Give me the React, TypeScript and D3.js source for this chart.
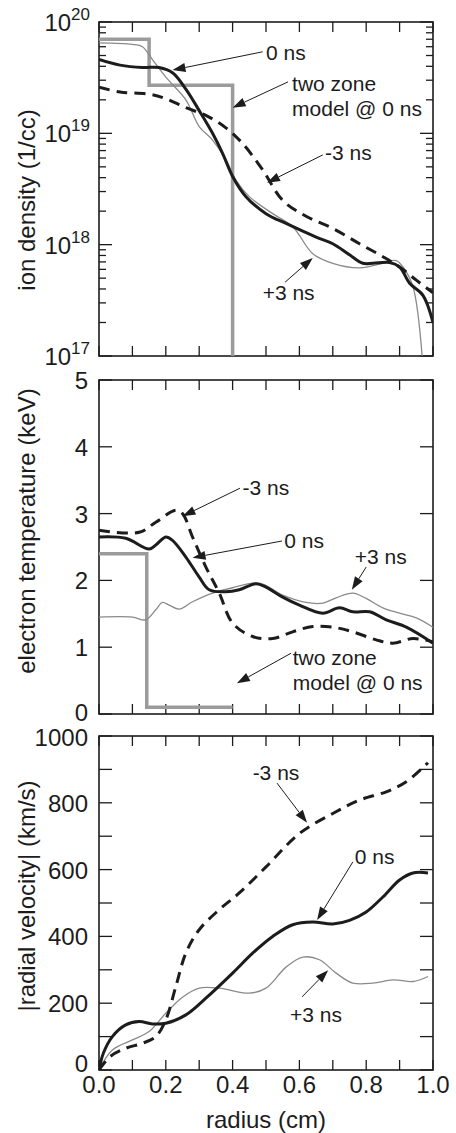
import React from "react";
import * as d3 from "d3";

// ---------------- data (radius in cm) ----------------
const densR0 = [0, 0.063, 0.13, 0.18, 0.22, 0.26, 0.3, 0.34, 0.37, 0.4, 0.44, 0.5, 0.56, 0.65, 0.7, 0.75, 0.79, 0.82, 0.87, 0.9, 0.93, 0.97, 1.0];
const dens0 = [4.6e19, 4.1e19, 3.9e19, 3.9e19, 3.5e19, 2.5e19, 1.6e19, 1.0e19, 6.6e18, 4.1e18, 2.7e18, 1.9e18, 1.55e18, 1.17e18, 1.02e18, 8.1e17, 6.8e17, 6.8e17, 6.9e17, 6.3e17, 4.5e17, 3.5e17, 2.0e17];

const densRm3 = [0, 0.063, 0.15, 0.2, 0.26, 0.32, 0.38, 0.43, 0.49, 0.55, 0.62, 0.7, 0.78, 0.85, 0.9, 0.95, 1.0];
const densM3 = [2.6e19, 2.35e19, 2.25e19, 2.05e19, 1.7e19, 1.45e19, 1.12e19, 8.1e18, 4.7e18, 2.5e18, 1.8e18, 1.4e18, 1.02e18, 7.8e17, 6.3e17, 4.8e17, 3.7e17];

const densRp3 = [0, 0.1, 0.13, 0.16, 0.2, 0.26, 0.3, 0.34, 0.38, 0.41, 0.45, 0.52, 0.58, 0.64, 0.7, 0.78, 0.85, 0.89, 0.91, 0.94, 0.97];
const densP3 = [6.5e19, 6.3e19, 6.0e19, 4.6e19, 3.2e19, 2.0e19, 1.15e19, 8.7e18, 5.8e18, 3.8e18, 2.7e18, 1.9e18, 1.45e18, 8.3e17, 6.8e17, 6.2e17, 6.8e17, 7.2e17, 6.3e17, 4.2e17, 8e16];

const densStepR = [0, 0.15, 0.4];
const densStep = [7e19, 2.7e19, 1e17];

const tempR0 = [0, 0.08, 0.15, 0.17, 0.2, 0.22, 0.26, 0.3, 0.33, 0.38, 0.42, 0.47, 0.5, 0.55, 0.6, 0.67, 0.72, 0.76, 0.81, 0.86, 0.92, 1.0];
const temp0 = [2.65, 2.63, 2.47, 2.53, 2.65, 2.6, 2.35, 2.05, 1.86, 1.83, 1.86, 1.95, 1.9, 1.75, 1.63, 1.51, 1.59, 1.53, 1.53, 1.41, 1.3, 1.06];

const tempRm3 = [0, 0.12, 0.17, 0.23, 0.25, 0.28, 0.32, 0.36, 0.4, 0.46, 0.52, 0.58, 0.64, 0.7, 0.76, 0.83, 0.88, 0.94, 1.0];
const tempM3 = [2.75, 2.72, 2.87, 3.05, 3.0, 2.65, 2.2, 1.81, 1.36, 1.16, 1.13, 1.23, 1.31, 1.3, 1.23, 1.11, 1.06, 1.13, 1.08];

const tempRp3 = [0, 0.1, 0.14, 0.17, 0.19, 0.21, 0.24, 0.28, 0.34, 0.4, 0.48, 0.55, 0.62, 0.67, 0.71, 0.76, 0.8, 0.85, 0.9, 0.95, 1.0];
const tempP3 = [1.45, 1.45, 1.41, 1.56, 1.67, 1.63, 1.57, 1.68, 1.81, 1.89, 1.96, 1.78, 1.67, 1.66, 1.74, 1.81, 1.73, 1.59, 1.51, 1.44, 1.3];

const tempStepR = [0, 0.143, 0.4];
const tempStep = [2.4, 0.1, 0.1];

const velR0 = [0, 0.013, 0.04, 0.08, 0.12, 0.16, 0.2, 0.26, 0.32, 0.4, 0.46, 0.52, 0.58, 0.64, 0.7, 0.75, 0.8, 0.85, 0.9, 0.94, 0.985];
const vel0 = [0, 50, 100, 135, 145, 138, 140, 165, 215, 290, 350, 400, 435, 443, 437, 448, 473, 518, 569, 590, 590];

const velRm3 = [0, 0.033, 0.08, 0.13, 0.17, 0.2, 0.23, 0.26, 0.3, 0.36, 0.42, 0.5, 0.6, 0.7, 0.78, 0.86, 0.92, 0.985];
const velM3 = [0, 40, 65, 80, 100, 150, 250, 350, 420, 480, 530, 608, 708, 768, 808, 833, 863, 920];

const velRp3 = [0, 0.04, 0.1, 0.15, 0.2, 0.25, 0.3, 0.36, 0.45, 0.5, 0.56, 0.61, 0.66, 0.71, 0.76, 0.82, 0.88, 0.94, 0.985];
const velP3 = [0, 60, 90, 115, 170, 218, 245, 245, 230, 245, 308, 338, 330, 290, 260, 260, 270, 265, 280];

const xTicks = [0, 0.1, 0.2, 0.3, 0.4, 0.5, 0.6, 0.7, 0.8, 0.9, 1.0];
const xTickLabels = ["0.0", "0.2", "0.4", "0.6", "0.8", "1.0"];
const densDecades = [17, 18, 19, 20];
const tempTicks = [0, 1, 2, 3, 4, 5];
const velTicks = [0, 100, 200, 300, 400, 500, 600, 700, 800, 900, 1000];
const velTickLabels = [0, 200, 400, 600, 800, 1000];

// annotations: text anchor, arrow tail and tip in data units
const densNotes = [
  { lines: ["0 ns"], tx: 0.5, ty: 4.6e19, ax: 0.49, ay: 5.4e19, bx: 0.22, by: 3.7e19 },
  { lines: ["two zone", "model @ 0 ns"], tx: 0.578, ty: 2.4e19, ax: 0.566, ay: 2.9e19, bx: 0.4, by: 1.7e19 },
  { lines: ["-3 ns"], tx: 0.677, ty: 5.75e18, ax: 0.67, ay: 6.4e18, bx: 0.503, by: 3.6e18 },
  { lines: ["+3 ns"], tx: 0.49, ty: 3.2e17, ax: 0.557, ay: 4.6e17, bx: 0.64, by: 7.6e17 },
];
const tempNotes = [
  { lines: ["-3 ns"], tx: 0.43, ty: 3.28, ax: 0.422, ay: 3.38, bx: 0.25, by: 2.96 },
  { lines: ["0 ns"], tx: 0.555, ty: 2.49, ax: 0.548, ay: 2.59, bx: 0.28, by: 2.34 },
  { lines: ["+3 ns"], tx: 0.766, ty: 2.25, ax: 0.8, ay: 2.2, bx: 0.757, by: 1.86 },
  { lines: ["two zone", "model @ 0 ns"], tx: 0.58, ty: 0.73, ax: 0.575, ay: 0.91, bx: 0.413, by: 0.46 },
];
const velNotes = [
  { lines: ["-3 ns"], tx: 0.46, ty: 868, ax: 0.533, ay: 859, bx: 0.623, by: 740 },
  { lines: ["0 ns"], tx: 0.766, ty: 617, ax: 0.76, ay: 623, bx: 0.653, by: 449 },
  { lines: ["+3 ns"], tx: 0.572, ty: 144, ax: 0.608, ay: 219, bx: 0.686, by: 299 },
];

const FONT = "'Liberation Sans', Arial, Helvetica, sans-serif";
const INK = "#1c1c1c";
const W = 456;
const H = 1133;
const left = 99;
const size = 334;

const zip = (xs: number[], ys: number[]) => xs.map((r, i) => [r, ys[i]] as [number, number]);

function Arrow({ x1, y1, x2, y2 }: any) {
  const ang = Math.atan2(y2 - y1, x2 - x1);
  const len = 13, half = 4.5;
  const bx = x2 - len * Math.cos(ang), by = y2 - len * Math.sin(ang);
  const px = -Math.sin(ang) * half, py = Math.cos(ang) * half;
  return (
    <g>
      <line x1={x1} y1={y1} x2={bx} y2={by} stroke={INK} strokeWidth={1} />
      <polygon points={`${x2},${y2} ${bx + px},${by + py} ${bx - px},${by - py}`} fill={INK} />
    </g>
  );
}

function Notes({ notes, x, y }: any) {
  return (
    <g>
      {notes.map((n: any, i: number) => (
        <g key={i}>
          <Arrow x1={x(n.ax)} y1={y(n.ay)} x2={x(n.bx)} y2={y(n.by)} />
          {n.lines.map((t: string, j: number) => (
            <text key={j} x={x(n.tx)} y={y(n.ty) + j * 25} fontSize={21} fontFamily={FONT} fill={INK}>{t}</text>
          ))}
        </g>
      ))}
    </g>
  );
}

function Frame({ top, x, yTicks, id }: any) {
  const bottom = top + size;
  return (
    <g>
      {xTicks.map((t, i) => (
        <g key={"x" + i}>
          <line x1={x(t)} x2={x(t)} y1={bottom} y2={bottom - 10} stroke={INK} strokeWidth={1.3} />
          <line x1={x(t)} x2={x(t)} y1={top} y2={top + 10} stroke={INK} strokeWidth={1.3} />
        </g>
      ))}
      {yTicks.map((t: any, i: number) => (
        <g key={"y" + i}>
          <line x1={left} x2={left + t.len} y1={t.y} y2={t.y} stroke={INK} strokeWidth={1.3} />
          <line x1={left + size} x2={left + size - t.len} y1={t.y} y2={t.y} stroke={INK} strokeWidth={1.3} />
        </g>
      ))}
      <rect x={left} y={top} width={size} height={size} fill="none" stroke={INK} strokeWidth={1.6} />
      <clipPath id={id}>
        <rect x={left} y={top} width={size} height={size} />
      </clipPath>
    </g>
  );
}

function Curves({ x, y, clip, solid, dashed, thin, step }: any) {
  const line = d3.line<[number, number]>()
    .x(d => x(d[0]))
    .y(d => y(d[1]))
    .curve(d3.curveCatmullRom.alpha(0.5));
  const stepLine = d3.line<[number, number]>()
    .x(d => x(d[0]))
    .y(d => y(d[1]))
    .curve(d3.curveStepAfter);
  return (
    <g clipPath={`url(#${clip})`}>
      {step && <path d={stepLine(step) || ""} fill="none" stroke="#9b9b9b" strokeWidth={3.5} />}
      <path d={line(thin) || ""} fill="none" stroke="#8a8a8a" strokeWidth={1.3} />
      <path d={line(dashed) || ""} fill="none" stroke={INK} strokeWidth={3} strokeDasharray="11 7" />
      <path d={line(solid) || ""} fill="none" stroke={INK} strokeWidth={3} />
    </g>
  );
}

function YLabel({ text, cy }: any) {
  return (
    <text transform={`translate(35,${cy}) rotate(-90)`} textAnchor="middle" fontSize={24} fontFamily={FONT} fill={INK}>{text}</text>
  );
}

export default function App() {
  const x = d3.scaleLinear().domain([0, 1]).range([left, left + size]);

  // ---------------- panel 1: ion density ----------------
  const top1 = 22;
  const y1 = d3.scaleLog().domain([1e17, 1e20]).range([top1 + size, top1]);
  const ticks1: any[] = [];
  densDecades.forEach(d => {
    ticks1.push({ y: y1(Math.pow(10, d)), len: 13 });
    if (d < 20) for (let k = 2; k <= 9; k++) ticks1.push({ y: y1(k * Math.pow(10, d)), len: 7 });
  });

  // ---------------- panel 2: electron temperature ----------------
  const top2 = 380;
  const y2 = d3.scaleLinear().domain([0, 5]).range([top2 + size, top2]);
  const ticks2 = tempTicks.map(t => ({ y: y2(t), len: 13 }));

  // ---------------- panel 3: radial velocity ----------------
  const top3 = 736;
  const y3 = d3.scaleLinear().domain([0, 1000]).range([top3 + size, top3]);
  const ticks3 = velTicks.map(t => ({ y: y3(t), len: 13 }));

  return (
    <div style={{ position: "absolute", left: 0, top: 0 }}>
      <svg width={W} height={H} style={{ display: "block", background: "#fff" }}>
        {/* panel 1 */}
        <Frame top={top1} x={x} yTicks={ticks1} id="c1" />
        <Curves x={x} y={y1} clip="c1"
          solid={zip(densR0, dens0)} dashed={zip(densRm3, densM3)}
          thin={zip(densRp3, densP3)} step={zip(densStepR, densStep)} />
        <Notes notes={densNotes} x={x} y={y1} />
        {densDecades.map(d => (
          <text key={d} x={90} y={y1(Math.pow(10, d)) + 9} textAnchor="end" fontFamily={FONT} fill={INK} fontSize={24}>
            10<tspan fontSize={17} dy={-11}>{d}</tspan>
          </text>
        ))}
        <YLabel text="ion density (1/cc)" cy={200} />

        {/* panel 2 */}
        <Frame top={top2} x={x} yTicks={ticks2} id="c2" />
        <Curves x={x} y={y2} clip="c2"
          solid={zip(tempR0, temp0)} dashed={zip(tempRm3, tempM3)}
          thin={zip(tempRp3, tempP3)} step={zip(tempStepR, tempStep)} />
        <Notes notes={tempNotes} x={x} y={y2} />
        {tempTicks.map(t => (
          <text key={t} x={88} y={y2(t) + (t === 0 ? 7 : 9)} textAnchor="end" fontFamily={FONT} fill={INK} fontSize={24}>{t}</text>
        ))}
        <YLabel text="electron temperature (keV)" cy={531} />

        {/* panel 3 */}
        <Frame top={top3} x={x} yTicks={ticks3} id="c3" />
        <Curves x={x} y={y3} clip="c3"
          solid={zip(velR0, vel0)} dashed={zip(velRm3, velM3)}
          thin={zip(velRp3, velP3)} />
        <Notes notes={velNotes} x={x} y={y3} />
        {velTickLabels.map(t => (
          <text key={t} x={88} y={y3(t) + (t === 0 ? 2 : t === 1000 ? 10 : 9)} textAnchor="end" fontFamily={FONT} fill={INK} fontSize={24}>{t}</text>
        ))}
        {xTickLabels.map(t => (
          <text key={t} x={x(+t)} y={1093} textAnchor="middle" fontFamily={FONT} fill={INK} fontSize={24}>{t}</text>
        ))}
        <text x={x(0.5)} y={1128} textAnchor="middle" fontFamily={FONT} fill={INK} fontSize={24}>radius (cm)</text>
        <YLabel text="|radial velocity| (km/s)" cy={896} />
      </svg>
    </div>
  );
}
